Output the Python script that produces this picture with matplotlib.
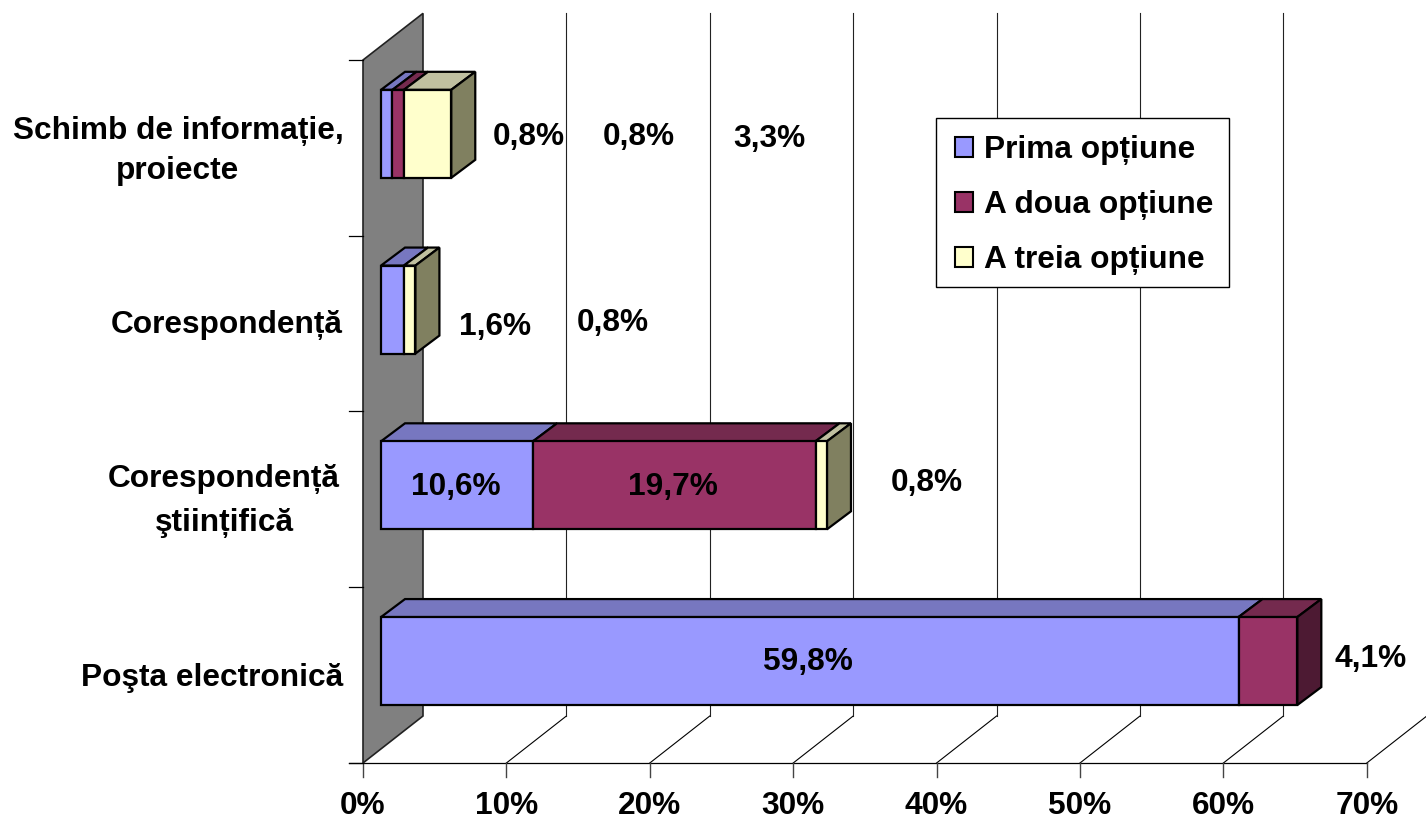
import matplotlib
matplotlib.use('Agg')
import matplotlib.pyplot as plt
from matplotlib.patches import Polygon, Patch, Rectangle

categories = ['Poşta electronică', 'Corespondență\nştiințifică', 'Corespondență',
              'Schimb de informație,\nproiecte']
series_names = ['Prima opțiune', 'A doua opțiune', 'A treia opțiune']
prima = [59.8, 10.6, 1.6, 0.8]
a_doua = [4.1, 19.7, 0, 0.8]
a_treia = [0, 0.8, 0.8, 3.3]
x_ticks = [0, 10, 20, 30, 40, 50, 60, 70]

W, H = 1426, 821
PX_X = 14.34    # pixels per percent
PX_Y = 175.75   # pixels per category
X0, Y0 = 363, 763  # pixel position of the origin

FRONT = ['#9999ff', '#993366', '#ffffcc']
TOP = ['#7777c0', '#742a4e', '#c0c0a0']
SIDE = ['#6666a0', '#4d1a33', '#808060']
FONT = {'family': 'Liberation Sans', 'fontweight': 'bold', 'fontsize': 22.8}

# depth of the wall and of the bars, in data units
WALL_DX, WALL_DY = 60 / PX_X, 47 / PX_Y
BAR_DX, BAR_DY = 24 / PX_X, 18 / PX_Y
BAR_START = 18 / PX_X
BAR_H = 88 / PX_Y
ROW_SHIFT = 0.08


def label_px(x, y, s, **kw):
    """text placed by pixel position of the picture"""
    return fig.text(x / W, 1 - (y + 2) / H, s, ha=kw.pop('ha', 'center'), va='center', color='black', **FONT, **kw)


fig = plt.figure(figsize=(W / 100, H / 100), dpi=100)
ax = fig.add_axes([0, 0, 1, 1])
ax.set_xlim(-X0 / PX_X, (W - X0) / PX_X)
ax.set_ylim((Y0 - H) / PX_Y, Y0 / PX_Y)
ax.axis('off')

n = len(categories)

# side wall
ax.add_patch(Polygon([(0, 0), (WALL_DX, WALL_DY), (WALL_DX, n + WALL_DY - 0.002), (0, n)],
                     facecolor='#808080', edgecolor='#222222', lw=1.2, zorder=1))

# grid lines on the floor and back
for t in x_ticks[1:]:
    ax.plot([t, t + WALL_DX], [0, WALL_DY], color='black', lw=0.8, zorder=1)
    ax.plot([t + WALL_DX, t + WALL_DX], [WALL_DY, n + WALL_DY], color='#222222', lw=0.8, zorder=1)

# axes lines and ticks
ax.plot([-14 / PX_X, x_ticks[-1]], [0, 0], color='black', lw=0.9, zorder=2)
for t in x_ticks:
    ax.plot([t, t], [0, -14 / PX_Y], color='#444444', lw=1, zorder=2)
    label_px(X0 + t * PX_X, 804, f'{t}%')
for i in range(n + 1):
    ax.plot([-14 / PX_X, 0], [i, i], color='black', lw=0.9, zorder=2)

# stacked bars with their 3d faces
for i in range(n):
    yc = i + 0.5 + ROW_SHIFT
    left = BAR_START
    vals = [prima[i], a_doua[i], a_treia[i]]
    last = max(j for j, v in enumerate(vals) if v > 0)
    for j, v in enumerate(vals):
        if v == 0:
            continue
        ax.bar(left, BAR_H, width=v, bottom=yc - BAR_H / 2, align='edge', color=FRONT[j],
               edgecolor='black', lw=1.6, zorder=4)
        top = yc + BAR_H / 2
        ax.add_patch(Polygon([(left, top), (left + v, top), (left + v + BAR_DX, top + BAR_DY),
                              (left + BAR_DX, top + BAR_DY)],
                             facecolor=TOP[j], edgecolor='black', lw=1.6, zorder=3))
        if j == last:
            r = left + v
            ax.add_patch(Polygon([(r, yc - BAR_H / 2), (r + BAR_DX, yc - BAR_H / 2 + BAR_DY),
                                  (r + BAR_DX, top + BAR_DY), (r, top)],
                                 facecolor=SIDE[j], edgecolor='black', lw=1.6, zorder=3))
        left += v

# category labels
label_px(178, 149, categories[3], linespacing=1.45)
label_px(343, 323, categories[2], ha='right')
label_px(224, 499, categories[1], linespacing=1.6)
label_px(343, 676, categories[0], ha='right')

# data labels
fmt = lambda v: f'{v:.1f}%'.replace('.', ',')
label_px(808, 660, fmt(prima[0]))
label_px(1371, 657, fmt(a_doua[0]))
label_px(456, 485, fmt(prima[1]))
label_px(673, 485, fmt(a_doua[1]))
label_px(927, 481, fmt(a_treia[1]))
label_px(495, 325, fmt(prima[2]))
label_px(613, 321, fmt(a_treia[2]))
label_px(529, 135, fmt(prima[3]))
label_px(639, 135, fmt(a_doua[3]))
label_px(769, 137, fmt(a_treia[3]))

# legend box drawn apart so its size can be set
ax.add_patch(Rectangle((936 / W, 1 - 287 / H), 293 / W, 169 / H, transform=fig.transFigure,
                       facecolor='white', edgecolor='black', lw=1, zorder=9))
handles = [Patch(facecolor=c, edgecolor='black', lw=1.5, label=s) for c, s in zip(FRONT, series_names)]
leg = ax.legend(handles=handles, loc='upper left', bbox_to_anchor=(936 / W, 1 - 116 / H),
                bbox_transform=fig.transFigure, frameon=False, borderaxespad=0, borderpad=0.6,
                labelspacing=0.79, handlelength=0.58, handleheight=0.58, handletextpad=0.33,
                prop={'family': 'Liberation Sans', 'weight': 'bold', 'size': 22.8})
leg.set_zorder(10)

fig.savefig('out.png', dpi=100)
